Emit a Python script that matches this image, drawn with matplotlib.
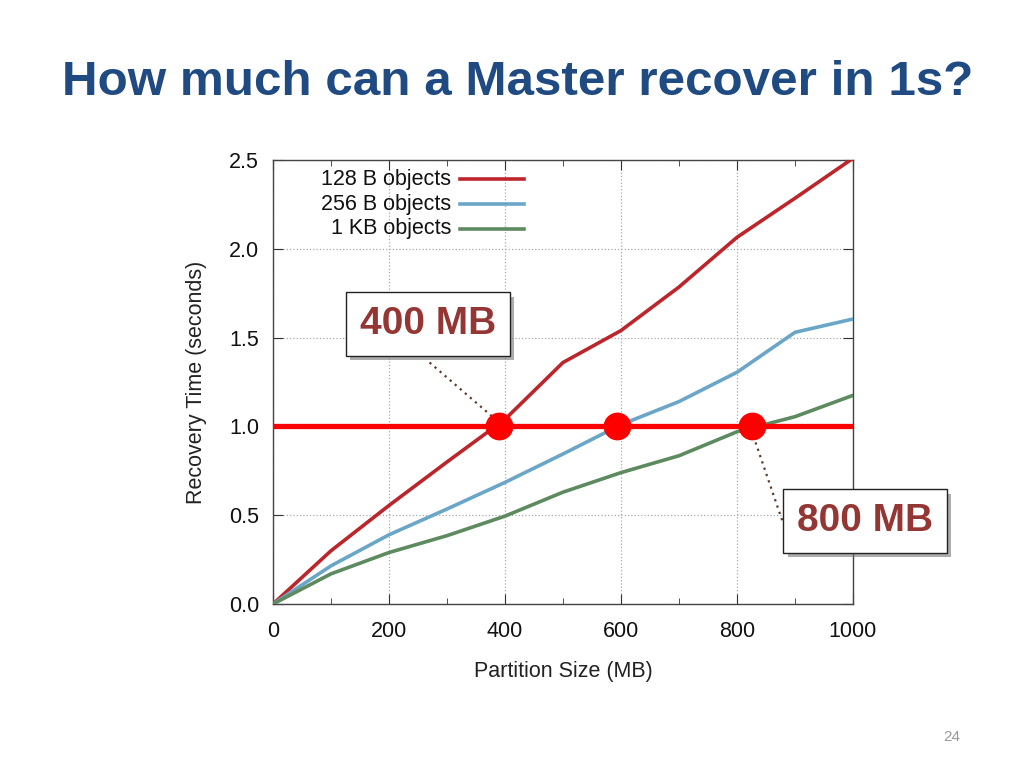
import matplotlib.pyplot as plt
import matplotlib.patheffects as pe
from matplotlib.lines import Line2D

# partition size (MB) and recovery time (s) for each object size
sizes = [0, 100, 200, 300, 400, 500, 600, 700, 800, 900, 1000]
t_128b = [0.0, 0.30, 0.555, 0.80, 1.04, 1.36, 1.54, 1.785, 2.065, 2.285, 2.51]
t_256b = [0.0, 0.215, 0.39, 0.535, 0.685, 0.845, 1.01, 1.14, 1.305, 1.53, 1.605]
t_1kb = [0.0, 0.17, 0.29, 0.385, 0.495, 0.63, 0.74, 0.835, 0.97, 1.055, 1.175]
series_names = ['128 B objects', '256 B objects', '1 KB objects']
series_colors = ['#BC262B', '#6AA6C8', '#5E8A5F']

# points where each curve crosses the 1 s target
target = 1.0
cross_x = [390, 593, 826]
cross_y = [1.0, 1.0, 1.0]

title = 'How much can a Master recover in 1s?'
note_color = '#943634'

plt.rcParams['font.family'] = ['Liberation Sans', 'DejaVu Sans']

fig = plt.figure(figsize=(10.24, 7.68), dpi=100)
ax = fig.add_axes([0.2666, 0.2135, 0.5664, 0.5781])

for ys, c in zip([t_128b, t_256b, t_1kb], series_colors):
    ax.plot(sizes, ys, color=c, lw=2.6, solid_capstyle='round', zorder=3)

ax.axhline(target, color='#FF0000', lw=3.8, zorder=4)
ax.plot(cross_x, cross_y, 'o', color='#FF0000', ms=19, zorder=5)

ax.set_xlim(0, 1000)
ax.set_ylim(0, 2.5)
ax.set_xticks([0, 200, 400, 600, 800, 1000])
ax.set_xticks([100, 300, 500, 700, 900], minor=True)
ax.set_yticks([0, 0.5, 1.0, 1.5, 2.0, 2.5])
ax.set_yticklabels(['0.0', '0.5', '1.0', '1.5', '2.0', '2.5'])
ax.tick_params(which='both', direction='in', top=True, right=True,
               labelsize=15.5, colors='#333333', labelcolor='#111111')
ax.tick_params(which='major', length=7)
ax.tick_params(axis='x', which='major', pad=12)
ax.tick_params(axis='y', which='major', pad=10)
ax.tick_params(which='minor', length=4)
ax.grid(True, which='major', ls=':', color='#AAAAAA', lw=0.9)
for s in ax.spines.values():
    s.set_color('#444444')
    s.set_linewidth(1.0)

ax.set_xlabel('Partition Size (MB)', fontsize=15.5, labelpad=14, color='#222222')
ax.set_ylabel('Recovery Time (seconds)', fontsize=15.5, labelpad=16, color='#222222')

# legend: text right aligned, line to the right of it
leg_y = [0.957, 0.901, 0.845]
for name, c, yy in zip(series_names, series_colors, leg_y):
    ax.text(0.307, yy, name, transform=ax.transAxes, ha='right', va='center',
            fontsize=15.5, color='#111111', zorder=6)
    ax.add_line(Line2D([0.322, 0.433], [yy, yy], transform=ax.transAxes,
                       color=c, lw=2.6, zorder=6))

# dotted leader lines from the call-out boxes to the dots
ax.plot([270, 380], [1.36, 1.05], ls=(0, (1, 2)), color='#5A3A2A', lw=1.6,
        zorder=4, clip_on=False)
ax.plot([832, 878], [0.91, 0.47], ls=(0, (1, 2)), color='#5A3A2A', lw=1.6,
        zorder=4, clip_on=False)


def callout(x, y, label):
    t = ax.text(x, y, label, ha='center', va='center', fontsize=28,
                fontweight='bold', color=note_color, zorder=7, clip_on=False,
                bbox=dict(boxstyle='square,pad=0.35', fc='white', ec='#222222', lw=1.0))
    t.get_bbox_patch().set_path_effects(
        [pe.SimplePatchShadow(offset=(3, -3), shadow_rgbFace='#777777', alpha=0.6),
         pe.Normal()])


callout(267, 1.577, '400 MB')
callout(1021, 0.467, '800 MB')

fig.text(62 / 1024, 1 - 95 / 768, title, ha='left', va='baseline',
         fontsize=35.6, fontweight='bold', color='#1F4A82')
fig.text(952 / 1024, 1 - 741 / 768, '24', ha='center', va='baseline',
         fontsize=11, color='#999999')

fig.savefig('out.png', dpi=100)
